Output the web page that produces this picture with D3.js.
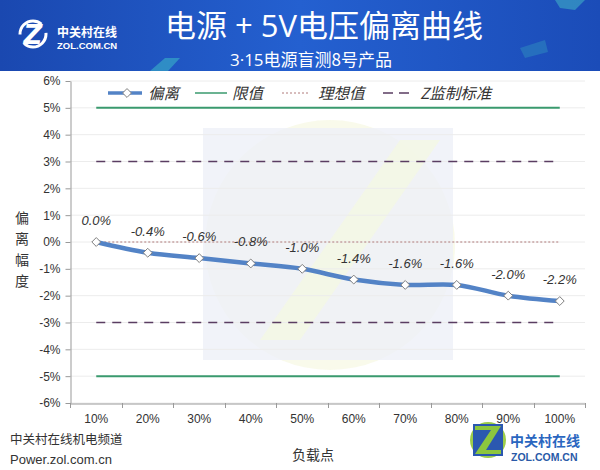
<!DOCTYPE html>
<html><head><meta charset="utf-8">
<script src="https://cdn.jsdelivr.net/npm/d3@7"></script>
<style>body{margin:0;background:#fff}svg{display:block;font-family:"Noto Sans CJK SC","Microsoft YaHei",sans-serif}</style>
</head><body><svg id="c" width="600" height="470"></svg>
<script>
const categories = ["10%","20%","30%","40%","50%","60%","70%","80%","90%","100%"];
const deviation = [0.0,-0.4,-0.6,-0.8,-1.0,-1.4,-1.6,-1.6,-2.0,-2.2];
const deviationLabels = ["0.0%","-0.4%","-0.6%","-0.8%","-1.0%","-1.4%","-1.6%","-1.6%","-2.0%","-2.2%"];
const limitValues = [5,-5];
const idealValues = [0];
const zStandardValues = [3,-3];
const yTicks = [6,5,4,3,2,1,0,-1,-2,-3,-4,-5,-6];
const legendNames = ["偏离","限值","理想值","Z监制标准"];

const svg = d3.select("#c");
const defs = svg.append("defs");
const g1 = defs.append("linearGradient").attr("id","bn").attr("x1",0).attr("x2",1).attr("y1",0).attr("y2",0);
g1.append("stop").attr("offset","0%").attr("stop-color","#1a48b0");
g1.append("stop").attr("offset","50%").attr("stop-color","#2460d0");
g1.append("stop").attr("offset","100%").attr("stop-color","#1b4cb8");

// banner
svg.append("rect").attr("x",0).attr("y",0).attr("width",600).attr("height",71).attr("fill","url(#bn)");
svg.append("path").attr("d","M150,71 L165,58 L180,58 L168,71Z").attr("fill","#3bb3c8").attr("opacity",0.6);
svg.append("path").attr("d","M555,0 L585,0 L575,10 L560,8Z").attr("fill","#45c0c8").attr("opacity",0.5);
svg.append("path").attr("d","M520,48 L545,40 L548,52 L525,58Z").attr("fill","#3aa8c0").attr("opacity",0.35);
// left logo
svg.append("circle").attr("cx",33).attr("cy",34).attr("r",13).attr("fill","none").attr("stroke","#fff").attr("stroke-width",3).attr("stroke-dasharray","30,10");
svg.append("text").attr("x",33).attr("y",44).attr("text-anchor","middle").attr("fill","#fff").attr("font-size",26).attr("font-weight","bold").attr("font-style","italic").attr("font-family","DejaVu Sans").text("Z");
svg.append("text").attr("x",57).attr("y",37).attr("fill","#fff").attr("font-size",12).attr("font-weight","bold").text("中关村在线");
svg.append("text").attr("x",57).attr("y",49).attr("fill","#fff").attr("font-size",9.5).attr("font-weight","bold").attr("font-family","Liberation Sans").text("ZOL.COM.CN");

const tt = svg.append("text").attr("x",324).attr("y",37).attr("text-anchor","middle").attr("fill","#fff").attr("font-size",31);
tt.append("tspan").text("电源");
tt.append("tspan").attr("font-family","Open Sans").text(" + 5V");
tt.append("tspan").text("电压偏离曲线");
const st = svg.append("text").attr("x",311).attr("y",66).attr("text-anchor","middle").attr("fill","#fff").attr("font-size",17);
st.append("tspan").attr("font-family","Open Sans").text("3·15");
st.append("tspan").text("电源盲测8号产品");

// scales
const x = d3.scaleBand().domain(categories).range([70.5,585.5]);
const y = d3.scaleLinear().domain([-6,6]).range([403,81]);
const cx = d => x(d)+x.bandwidth()/2;
const xFirst = cx(categories[0]), xLast = cx(categories[categories.length-1]);

// watermark
svg.append("circle").attr("cx",330).attr("cy",245).attr("r",125).attr("fill","#f7f9e6").attr("opacity",0.8);
svg.append("rect").attr("x",203).attr("y",128).attr("width",250).attr("height",232).attr("fill","#eef0f8").attr("opacity",0.8);
svg.append("path").attr("d","M260,340 L400,140 L440,140 L300,340Z").attr("fill","#f4f7e4").attr("opacity",0.8);

// gridlines
svg.append("g").selectAll("line").data(yTicks).join("line")
  .attr("x1",70).attr("x2",585).attr("y1",d=>y(d)).attr("y2",d=>y(d))
  .attr("stroke","#ececec").attr("stroke-width",1);

// axes
const ya = svg.append("g").attr("transform","translate(70.5,0)")
  .call(d3.axisLeft(y).tickValues(yTicks).tickFormat(d=>d+"%").tickSize(5).tickSizeOuter(0));
ya.select(".domain").attr("stroke","#999");
ya.selectAll(".tick line").attr("stroke","#999");
ya.selectAll("text").attr("font-size",12).attr("fill","#333").attr("font-family","Liberation Sans, Arial").attr("x",-10);

const xa = svg.append("g").attr("transform","translate(0,403.5)")
  .call(d3.axisBottom(x).tickSize(0).tickSizeOuter(0));
xa.select(".domain").attr("stroke","#999");
xa.selectAll("text").attr("font-size",12).attr("fill","#333").attr("font-family","Liberation Sans, Arial").attr("dy","1.4em");
svg.append("g").selectAll("line").data(categories.concat(["end"])).join("line")
  .attr("x1",(d,i)=>Math.round(70+i*x.step())+0.5).attr("x2",(d,i)=>Math.round(70+i*x.step())+0.5)
  .attr("y1",403).attr("y2",408).attr("stroke","#999");

// reference lines
svg.append("g").selectAll("line").data(limitValues).join("line")
  .attr("x1",xFirst).attr("x2",xLast).attr("y1",d=>y(d)).attr("y2",d=>y(d))
  .attr("stroke","#3a9a6e").attr("stroke-width",2);
svg.append("g").selectAll("line").data(zStandardValues).join("line")
  .attr("x1",xFirst).attr("x2",xLast).attr("y1",d=>y(d)).attr("y2",d=>y(d))
  .attr("stroke","#5a3d62").attr("stroke-width",1.6).attr("stroke-dasharray","9,7");
svg.append("g").selectAll("line").data(idealValues).join("line")
  .attr("x1",xFirst).attr("x2",xLast).attr("y1",d=>y(d)).attr("y2",d=>y(d))
  .attr("stroke","#b07a7a").attr("stroke-width",1).attr("stroke-dasharray","2,2");

// series
const pts = categories.map((c,i)=>[cx(c), y(deviation[i])]);
svg.append("path").attr("d", d3.line().curve(d3.curveCatmullRom.alpha(0.5))(pts))
  .attr("fill","none").attr("stroke","#5383c6").attr("stroke-width",4.5).attr("stroke-linejoin","round");
const diamond = d3.symbol().type(d3.symbolDiamond2).size(50);
svg.append("g").selectAll("path").data(pts).join("path")
  .attr("transform",d=>`translate(${d[0]},${d[1]})`).attr("d",diamond)
  .attr("fill","#fff").attr("stroke","#7f7f7f").attr("stroke-width",1);
svg.append("g").selectAll("text").data(pts).join("text")
  .attr("x",d=>d[0]).attr("y",d=>d[1]-17).attr("text-anchor","middle")
  .attr("font-size",13).attr("font-style","italic").attr("fill","#333").attr("font-family","Liberation Sans, Arial")
  .text((d,i)=>deviationLabels[i]);

// legend
const lg = svg.append("g");
lg.append("line").attr("x1",108).attr("x2",142).attr("y1",93).attr("y2",93).attr("stroke","#5383c6").attr("stroke-width",3.5);
lg.append("path").attr("transform","translate(127,93)").attr("d",diamond).attr("fill","#fff").attr("stroke","#7f7f7f");
lg.append("line").attr("x1",195).attr("x2",227).attr("y1",93).attr("y2",93).attr("stroke","#3a9a6e").attr("stroke-width",1.5);
lg.append("line").attr("x1",282).attr("x2",308).attr("y1",93).attr("y2",93).attr("stroke","#b07a7a").attr("stroke-width",1).attr("stroke-dasharray","2,2");
lg.append("line").attr("x1",383).attr("x2",412).attr("y1",93).attr("y2",93).attr("stroke","#5a3d62").attr("stroke-width",1.6).attr("stroke-dasharray","10,6");
const lx = [148,232,318,420];
lg.selectAll("text").data(legendNames).join("text")
  .attr("x",(d,i)=>lx[i]).attr("y",99).attr("font-size",15.5).attr("font-style","italic").attr("fill","#333")
  .text(d=>d);

// axis titles
svg.append("g").selectAll("text").data(["偏","离","幅","度"]).join("text")
  .attr("x",22).attr("y",(d,i)=>223+i*21).attr("text-anchor","middle").attr("font-size",14).attr("fill","#333").text(d=>d);
svg.append("text").attr("x",313).attr("y",460).attr("text-anchor","middle").attr("font-size",14).attr("fill","#333").text("负载点");

// footer
svg.append("text").attr("x",10).attr("y",444).attr("font-size",12.5).attr("fill","#333").text("中关村在线机电频道");
svg.append("text").attr("x",10).attr("y",464).attr("font-size",13).attr("fill","#333").attr("font-family","Liberation Sans, Arial").text("Power.zol.com.cn");

// bottom right logo
svg.append("circle").attr("cx",488).attr("cy",440).attr("r",18).attr("fill","#9ccc4a");
svg.append("rect").attr("x",473).attr("y",424).attr("width",30).attr("height",32).attr("fill","#2b58b0");
svg.append("path").attr("d","M475,426 L501,426 L486,450 L501,450 L501,454 L475,454 L491,430 L475,430Z").attr("fill","#8cc63e");
svg.append("text").attr("x",510).attr("y",446).attr("font-size",14).attr("font-weight","bold").attr("fill","#2a66c0").text("中关村在线");
svg.append("text").attr("x",511).attr("y",461).attr("font-size",10.5).attr("font-weight","bold").attr("fill","#2a5aa8").attr("font-family","Liberation Sans, Arial").text("ZOL.COM.CN");
</script></body></html>
